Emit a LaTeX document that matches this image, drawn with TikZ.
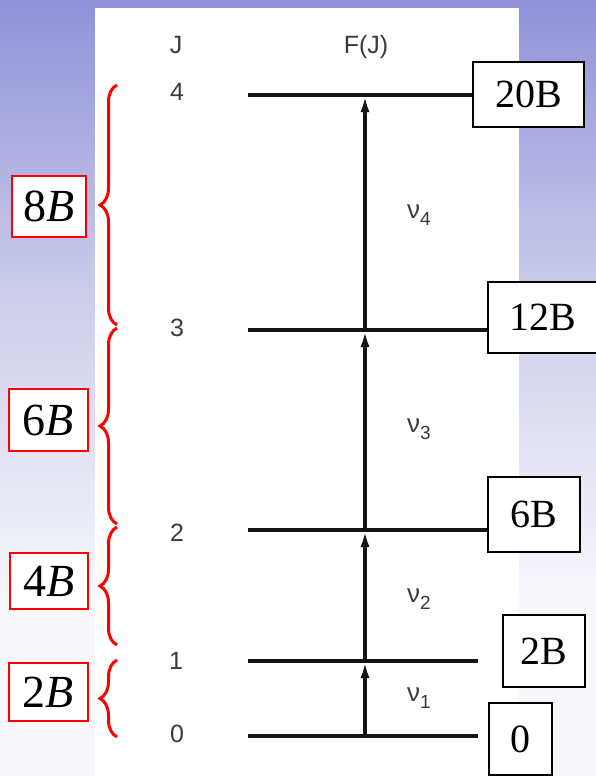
\documentclass[tikz,border=0pt]{standalone}
\usepackage{fontspec}
\setmainfont{Liberation Serif}
\setsansfont{Liberation Sans}
\usetikzlibrary{arrows.meta,decorations.pathreplacing}

\definecolor{bgtop}{RGB}{145,145,218}
\definecolor{bgmid}{RGB}{205,205,235}
\definecolor{bglow}{RGB}{248,248,252}
\definecolor{labelgray}{RGB}{62,56,64}
\definecolor{bracered}{RGB}{255,0,0}

% backdrop: purple at the top fading to almost white
\pgfdeclareverticalshading{bgfade}{100bp}{color(0bp)=(bglow); color(25bp)=(bglow); color(36bp)=(bglow); color(56bp)=(bgmid); color(75bp)=(bgtop); color(100bp)=(bgtop)}

\newcommand\nusub[1]{ν\raisebox{-0.3em}{\fontsize{19}{19}\selectfont #1}}

\tikzset{
  level/.style={line width=3.3pt, black!92},
  trans/.style={line width=3.5pt, black!92, -{Latex[length=17pt,width=9pt]}},
  jlabel/.style={font=\sffamily\fontsize{25}{25}\selectfont, text=labelgray, inner sep=0pt},
  nulabel/.style={font=\sffamily\fontsize{26}{26}\selectfont, text=labelgray, inner sep=0pt, anchor=base west},
  ebox/.style={draw=black, line width=1.6pt, fill=white, inner sep=0pt,
    font=\fontsize{40}{40}\selectfont},
  rbox/.style={draw=bracered, line width=2pt, fill=white, inner sep=0pt,
    font=\fontsize{46}{46}\selectfont},
  redbrace/.style={draw=bracered, line width=3pt, decorate,
    decoration={brace, amplitude=17pt}},
}

\begin{document}
\begin{tikzpicture}[x=1pt,y=-1pt]
  \shade[shading=bgfade] (0,0) rectangle (596,776);
  \useasboundingbox (0,0) rectangle (596,776);
  \fill[white] (95,8) rectangle (519,776);

  % column headings
  \node[jlabel] (jh) at (176,45) {J};
  \node[jlabel] (fh) at (366,47) {F(J)};

  % rotational levels
  \foreach \j/\y in {0/736,1/661,2/530,3/330,4/95} {
    \coordinate (a\j) at (248,\y);
    \coordinate (m\j) at (365,\y);
  }
  \node[jlabel] (j4) at (177,92) {4};
  \node[jlabel] (j3) at (177,328) {3};
  \node[jlabel] (j2) at (177,533) {2};
  \node[jlabel] (j1) at (176,661) {1};
  \node[jlabel] (j0) at (177,734) {0};

  % level energies
  \node[ebox, minimum width=111pt, minimum height=65pt] (e4) at (528.5,94.5) {20B};
  \node[ebox, minimum width=109pt, minimum height=71pt] (e3) at (542.5,317.5) {12B};
  \node[ebox, minimum width=92pt, minimum height=75pt] (e2) at (534,514.5) {6B};
  \node[ebox, minimum width=82pt, minimum height=72pt] (e1) at (544,651) {2B};
  \node[ebox, minimum width=63pt, minimum height=72pt] (e0) at (520.5,739) {0};

  \coordinate (b1) at (478,661);
  \coordinate (b0) at (478,736);
  \draw[level] (a4) -- (a4 -| e4.west);
  \draw[level] (a3) -- (a3 -| e3.west);
  \draw[level] (a2) -- (a2 -| e2.west);
  \draw[level] (a1) -- (b1);
  \draw[level] (a0) -- (b0);

  % absorption steps
  \draw[trans] (m0) -- (m1);
  \draw[trans] (m1) -- (m2);
  \draw[trans] (m2) -- (m3);
  \draw[trans] (m3) -- (m4);

  \node[nulabel] (n4) at (407,218) {\nusub{4}};
  \node[nulabel] (n3) at (407,432) {\nusub{3}};
  \node[nulabel] (n2) at (407,602) {\nusub{2}};
  \node[nulabel] (n1) at (407,701) {\nusub{1}};

  % spacings between neighbouring levels
  \coordinate (s8) at (117,325); \coordinate (t8) at (117,85);
  \coordinate (s6) at (117,524); \coordinate (t6) at (117,328);
  \coordinate (s4) at (117,645); \coordinate (t4) at (117,527);
  \coordinate (s2) at (117,737); \coordinate (t2) at (117,660);
  \draw[redbrace] (s8) -- (t8);
  \draw[redbrace] (s6) -- (t6);
  \draw[redbrace] (s4) -- (t4);
  \draw[redbrace] (s2) -- (t2);

  \node[rbox, minimum width=74pt, minimum height=61pt] (r8) at (49,206.5) {8\textit{B}};
  \node[rbox, minimum width=79pt, minimum height=62pt] (r6) at (48.5,420) {6\textit{B}};
  \node[rbox, minimum width=78pt, minimum height=56pt] (r4) at (49,581) {4\textit{B}};
  \node[rbox, minimum width=79pt, minimum height=58pt] (r2) at (48.5,692) {2\textit{B}};
\end{tikzpicture}
\end{document}
